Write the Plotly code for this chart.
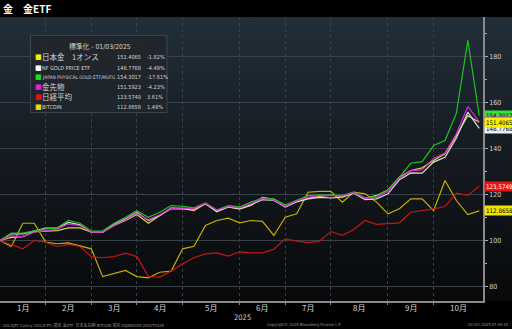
import base64
import plotly.graph_objects as go

# Weekly closes normalised to 100 at 01/03/2025 (43 weekly observations)
gold_jp_1oz = [100, 101.4, 101.7, 103.9, 104.1, 104.3, 105.5, 105.5, 103.6, 103.6,
               106.5, 108.7, 111.3, 107.5, 110.9, 113.8, 113.9, 113.0, 116.0, 113.0,
               114.6, 113.6, 115.2, 118.8, 117.9, 114.6, 117.2, 118.5, 119.2, 119.7,
               119.2, 120.8, 118.3, 119.6, 122.0, 127.5, 130.4, 131.6, 134.8, 137.7,
               145.7, 154.3, 151.4065]
nf_gold_etf = [100, 102.9, 102.9, 104.3, 105.4, 105.4, 107.9, 106.8, 103.6, 103.6,
               107.0, 109.4, 112.3, 108.7, 110.9, 114.2, 113.9, 113.6, 116.0, 112.5,
               114.6, 113.9, 115.6, 117.8, 117.4, 114.6, 116.8, 118.1, 118.8, 118.5,
               118.9, 120.6, 117.8, 118.1, 120.3, 126.4, 129.4, 129.3, 134.1, 136.2,
               144.6, 155.8, 148.7768]
jp_physical_gold = [100, 103.2, 103.2, 104.3, 105.1, 105.4, 108.7, 107.5, 104.1, 104.1,
                    107.5, 110.1, 113.0, 110.1, 112.3, 115.2, 114.9, 114.2, 116.4, 113.3,
                    115.2, 114.6, 116.7, 118.4, 118.1, 115.4, 117.4, 119.5, 119.9, 119.8,
                    119.6, 121.0, 118.5, 119.3, 122.0, 127.5, 133.6, 134.3, 141.3, 143.5,
                    155.4, 187.0, 154.3017]
gold_futures = [100, 102.0, 101.7, 103.6, 104.3, 104.9, 107.2, 106.5, 103.6, 103.6,
                106.5, 109.0, 111.9, 109.0, 111.2, 114.0, 114.2, 113.9, 116.2, 113.2,
                114.8, 114.2, 116.0, 118.2, 117.6, 114.9, 117.2, 118.8, 119.6, 119.5,
                119.4, 120.8, 118.3, 118.8, 121.4, 127.0, 130.4, 130.7, 135.7, 138.0,
                146.4, 158.3, 151.5923]
nikkei = [100, 98.3, 96.4, 100.0, 99.3, 97.4, 98.3, 97.4, 93.0, 92.5,
          93.0, 94.5, 93.0, 84.3, 84.1, 86.7, 89.9, 92.5, 94.2, 94.6,
          93.2, 95.1, 94.6, 94.6, 96.2, 100.7, 99.7, 99.1, 99.7, 103.9,
          102.3, 104.8, 108.7, 107.0, 107.2, 107.7, 112.3, 113.0, 113.8, 114.8,
          120.6, 119.6, 123.5749]
bitcoin = [100, 97.4, 107.5, 107.5, 99.3, 98.6, 99.0, 97.8, 96.4, 84.3,
           85.8, 87.0, 84.3, 83.8, 86.2, 86.7, 96.4, 97.5, 106.5, 108.7,
           109.7, 107.7, 108.7, 108.3, 102.2, 110.1, 111.6, 121.0, 121.4, 121.4,
           116.7, 121.0, 120.3, 116.7, 111.6, 113.8, 118.1, 118.1, 113.0, 126.1,
           117.4, 111.3, 112.8658]

series_names = ["日本金　1オンス", "NF GOLD PRICE ETF", "JAPAN PHYSICAL GOLD ETF/MUFG",
                "金先物", "日経平均", "BITCOIN"]
series_pct = ["-1.82%", "-4.49%", "-17.61%", "-4.23%", "3.61%", "1.49%"]

# Week index where each new month begins, and the month labels
month_starts = [4, 8, 12, 16, 21, 25, 29, 34, 38]
month_labels = ["1月", "2月", "3月", "4月", "5月", "6月", "7月", "8月", "9月", "10月"]
year_label = "2025"

weeks = list(range(len(gold_jp_1oz)))
x_max = 42.33

line_colors = ["#e4d640", "#dcdcdc", "#22c022", "#d62ad6", "#c81414", "#c4b000"]
square_colors = ["#f4f000", "#ffffff", "#22dd22", "#e020e0", "#ee1010", "#e8dc00"]
tag_bg = ["#f4f000", "#f0f0f0", "#3ae03a", "#e020e0", "#ee1414", "#f0e400"]
tag_fg = ["#000000", "#000000", "#000000", "#000000", "#ffffff", "#000000"]
# Japanese names are set larger than the Latin ones
name_sizes = [7.5, 5.4, 4.8, 7.5, 7.5, 5.4]

all_series = [gold_jp_1oz, nf_gold_etf, jp_physical_gold, gold_futures, nikkei, bitcoin]

NARROW = "DejaVu Sans Condensed, Noto Sans CJK JP, sans-serif"
CJK = "Noto Sans CJK JP, sans-serif"

fig = go.Figure()

# Bitcoin and Nikkei underneath, gold lines above
for idx in [5, 4, 0, 1, 2, 3]:
    fig.add_trace(go.Scatter(
        x=weeks, y=all_series[idx], mode="lines", name=series_names[idx],
        line=dict(color=line_colors[idx], width=1.2), showlegend=False,
    ))

# Invisible trace on the overlay axis that carries the month gridlines
fig.add_trace(go.Scatter(x=[0, x_max], y=[80, 80], xaxis="x2", mode="lines",
                         line=dict(width=0), hoverinfo="skip", showlegend=False))

bounds = [0] + month_starts + [x_max]
label_pos = [(bounds[i] + bounds[i + 1]) / 2 for i in range(len(month_labels))]

# Plot-area geometry (pixels) used to place the overlay boxes
W, T, B = 483.0, 17.0, 301.0
H = B - T


def px(xp):
    return xp / W


def py(yp):
    return (B - yp) / H


# Background gradient, from slate at the top to near black at the bottom
svg = (
    '<svg xmlns="http://www.w3.org/2000/svg" viewBox="0 0 100 100" '
    'preserveAspectRatio="none" width="100" height="100">'
    '<defs><linearGradient id="g" x1="0" y1="0" x2="0" y2="1">'
    '<stop offset="0" stop-color="#222f39"/>'
    '<stop offset="0.35" stop-color="#182028"/>'
    '<stop offset="0.7" stop-color="#0f1317"/>'
    '<stop offset="1" stop-color="#08090b"/>'
    '</linearGradient></defs>'
    '<rect x="0" y="0" width="100" height="100" fill="url(#g)"/></svg>'
)
svg_uri = "data:image/svg+xml;base64," + base64.b64encode(svg.encode()).decode()

annotations = []

# Title
annotations.append(dict(text="<b>金　金ETF</b>", x=px(1), y=py(8.5), xref="paper", yref="paper",
                        xanchor="left", yanchor="middle", showarrow=False,
                        font=dict(family=CJK, size=10, color="#ffffff")))

# Legend header and rows
annotations.append(dict(text="標準化 - 01/03/2025", x=px(100), y=py(46.5), xref="paper",
                        yref="paper", xanchor="center", yanchor="middle", showarrow=False,
                        font=dict(family=NARROW, size=6.8, color="#d0d0d0")))
row_y = [57.5, 67.5, 77.3, 87.3, 97.2, 107.0]
for i in range(6):
    annotations.append(dict(text="■", x=px(33.2), y=py(row_y[i]), xref="paper", yref="paper",
                            xanchor="left", yanchor="middle", showarrow=False,
                            font=dict(family="DejaVu Sans", size=7, color=square_colors[i])))
    annotations.append(dict(text=series_names[i], x=px(39.5), y=py(row_y[i]), xref="paper",
                            yref="paper", xanchor="left", yanchor="middle", showarrow=False,
                            font=dict(family=NARROW, size=name_sizes[i], color="#d4d4d4")))
    annotations.append(dict(text=f"{all_series[i][-1]:.4f}", x=px(143), y=py(row_y[i]),
                            xref="paper", yref="paper", xanchor="right", yanchor="middle",
                            showarrow=False, font=dict(family=NARROW, size=5.6, color="#d4d4d4")))
    annotations.append(dict(text=series_pct[i], x=px(144.5), y=py(row_y[i]), xref="paper",
                            yref="paper", xanchor="left", yanchor="middle", showarrow=False,
                            font=dict(family=NARROW, size=5.6, color="#d4d4d4")))

# Last-value tags on the right axis (日本金 drawn last so it sits on top)
for i in [5, 4, 1, 2, 3, 0]:
    annotations.append(dict(text=f"{all_series[i][-1]:.4f}", x=1, y=all_series[i][-1],
                            xref="paper", yref="y", xanchor="left", yanchor="middle",
                            xshift=1, showarrow=False, bgcolor=tag_bg[i], borderpad=1,
                            font=dict(family=NARROW, size=6.2, color=tag_fg[i])))

# Month labels and year
for pos, lab in zip(label_pos, month_labels):
    annotations.append(dict(text=lab, x=pos, y=py(307.5), xref="x", yref="paper",
                            xanchor="center", yanchor="middle", showarrow=False,
                            font=dict(family=CJK, size=8, color="#d4d4d4")))
annotations.append(dict(text=year_label, x=px(242), y=py(317.5), xref="paper", yref="paper",
                        xanchor="center", yanchor="middle", showarrow=False,
                        font=dict(family=NARROW, size=7.5, color="#d4d4d4")))

# Footer
foot_font = dict(family=NARROW, size=4, color="#9a9a9a")
annotations.append(dict(text="GOLDJPY Curncy (GOLD-PY) 週足 金ETF  日本金先物 BITCOIN 週足 03JAN2025-20OCT2025",
                        x=px(1), y=py(325), xref="paper", yref="paper", xanchor="left",
                        yanchor="middle", showarrow=False, font=foot_font))
annotations.append(dict(text="Copyright© 2025 Bloomberg Finance L.P.", x=px(304), y=py(325),
                        xref="paper", yref="paper", xanchor="center", yanchor="middle",
                        showarrow=False, font=foot_font))
annotations.append(dict(text="20-Oct-2025 07:39:10", x=px(511), y=py(325), xref="paper",
                        yref="paper", xanchor="right", yanchor="middle", showarrow=False,
                        font=foot_font))

shapes = [dict(type="rect", xref="paper", yref="paper", x0=px(30.5), x1=px(167),
               y0=py(112.5), y1=py(35.5), fillcolor="rgba(32,38,44,0.93)",
               line=dict(color="#3d454d", width=1), layer="above")]

fig.update_layout(
    width=512, height=329,
    margin=dict(l=0, r=29, t=17, b=28),
    paper_bgcolor="#000000",
    plot_bgcolor="rgba(0,0,0,0)",
    showlegend=False,
    images=[dict(source=svg_uri, xref="paper", yref="paper", x=0, y=1,
                 sizex=512 / W, sizey=1, xanchor="left", yanchor="top",
                 sizing="stretch", layer="below")],
    xaxis=dict(range=[0, x_max], showgrid=False, zeroline=False, showticklabels=False,
               ticks="", showline=True, linecolor="#8a8a8a", linewidth=1.5, mirror=False),
    xaxis2=dict(range=[0, x_max], overlaying="x", anchor="y", side="bottom",
                tickvals=month_starts, showticklabels=False, ticks="outside", ticklen=3,
                tickcolor="#8a8a8a", showgrid=True, gridcolor="#3a4148", gridwidth=1,
                griddash="dot", zeroline=False),
    yaxis=dict(range=[73.7, 197.2], side="right", tickvals=[80, 100, 120, 140, 160, 180],
               showgrid=True, gridcolor="#394047", gridwidth=1, zeroline=False,
               ticks="outside", ticklen=3, tickcolor="#b0b0b0", showline=True,
               linecolor="#8a8a8a", linewidth=1.5,
               tickfont=dict(family=NARROW, size=7, color="#d4d4d4"),
               minor=dict(dtick=10, tick0=0, ticks="outside", ticklen=2,
                          tickcolor="#b0b0b0", showgrid=False)),
    annotations=annotations,
    shapes=shapes,
)

fig.write_html("out.html")
